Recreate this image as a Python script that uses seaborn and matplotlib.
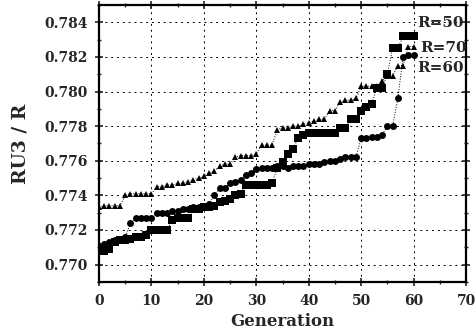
import numpy as np
import pandas as pd
import matplotlib
matplotlib.use("Agg")
import matplotlib.pyplot as plt
from matplotlib.ticker import MultipleLocator, FormatStrFormatter
import seaborn as sns

generation = list(range(61))

# best RU3/R per generation for each population size
r50 = [0.7708, 0.7708, 0.7709, 0.7713, 0.7714, 0.7714, 0.7715, 0.7716, 0.7716, 0.7717,
       0.7720, 0.7720, 0.7720, 0.7720, 0.7726, 0.7727, 0.7727, 0.7727, 0.7732, 0.7732,
       0.7733, 0.7733, 0.7734, 0.7736, 0.7737, 0.7738, 0.7740, 0.7741, 0.7746, 0.7746,
       0.7746, 0.7746, 0.7746, 0.7747, 0.7756, 0.7759, 0.7764, 0.7767, 0.7773, 0.7775,
       0.7776, 0.7776, 0.7776, 0.7776, 0.7776, 0.7776, 0.7779, 0.7779, 0.7784, 0.7784,
       0.7789, 0.7791, 0.7793, 0.7802, 0.7802, 0.7810, 0.7825, 0.7825, 0.7832, 0.7832,
       0.7832]
r70 = [0.7733, 0.7734, 0.7734, 0.7734, 0.7734, 0.7740, 0.7741, 0.7741, 0.7741, 0.7741,
       0.7741, 0.7745, 0.7745, 0.7746, 0.7746, 0.7747, 0.7747, 0.7748, 0.7749, 0.7750,
       0.7751, 0.7753, 0.7754, 0.7757, 0.7758, 0.7758, 0.7762, 0.7763, 0.7763, 0.7763,
       0.7764, 0.7769, 0.7769, 0.7769, 0.7778, 0.7779, 0.7779, 0.7780, 0.7780, 0.7781,
       0.7782, 0.7783, 0.7784, 0.7784, 0.7789, 0.7789, 0.7794, 0.7795, 0.7795, 0.7796,
       0.7803, 0.7803, 0.7803, 0.7803, 0.7806, 0.7809, 0.7809, 0.7815, 0.7815, 0.7826,
       0.7826]
r60 = [0.7711, 0.7712, 0.7713, 0.7714, 0.7715, 0.7716, 0.7724, 0.7727, 0.7727, 0.7727,
       0.7727, 0.7730, 0.7730, 0.7730, 0.7731, 0.7731, 0.7732, 0.7732, 0.7733, 0.7733,
       0.7734, 0.7735, 0.7740, 0.7744, 0.7744, 0.7747, 0.7748, 0.7749, 0.7752, 0.7753,
       0.7755, 0.7756, 0.7756, 0.7756, 0.7757, 0.7757, 0.7756, 0.7757, 0.7757, 0.7757,
       0.7758, 0.7758, 0.7758, 0.7759, 0.7760, 0.7760, 0.7761, 0.7762, 0.7762, 0.7762,
       0.7773, 0.7773, 0.7774, 0.7774, 0.7775, 0.7780, 0.7780, 0.7796, 0.7820, 0.7821,
       0.7821]

series_labels = ["R=50", "R=70", "R=60"]
x_ticks = [0, 10, 20, 30, 40, 50, 60, 70]
y_ticks = [0.770, 0.772, 0.774, 0.776, 0.778, 0.780, 0.782, 0.784]

sns.set_style("ticks")
plt.rcParams["font.family"] = ["DejaVu Serif"]
plt.rcParams["font.weight"] = "bold"

fig = plt.figure(figsize=(4.76, 3.34), dpi=100)
ax = fig.add_axes([0.208, 0.156, 0.771, 0.829])

styles = {
    "R=50": dict(marker="s", markersize=6.0),
    "R=70": dict(marker="^", markersize=4.5),
    "R=60": dict(marker="o", markersize=5.0),
}
for label, values in zip(series_labels, [r50, r70, r60]):
    df = pd.DataFrame({"Generation": generation, "value": values})
    sns.lineplot(data=df, x="Generation", y="value", ax=ax, color="black",
                 linewidth=0.7, linestyle=":", markeredgewidth=0,
                 markerfacecolor="black", **styles[label])

ax.set_xlim(0, 70)
ax.set_ylim(0.769, 0.785)
ax.set_xticks(x_ticks)
ax.set_yticks(y_ticks)
ax.xaxis.set_minor_locator(MultipleLocator(5))
ax.yaxis.set_minor_locator(MultipleLocator(0.001))
ax.yaxis.set_major_formatter(FormatStrFormatter("%.3f"))
ax.tick_params(which="major", direction="inout", length=6, width=1.2,
               top=True, right=True, labelsize=10)
ax.tick_params(axis="y", which="major", pad=5)
ax.tick_params(axis="x", which="major", pad=6)
ax.tick_params(which="minor", direction="inout", length=3, width=1.0,
               top=True, right=True)
for lab in ax.get_xticklabels() + ax.get_yticklabels():
    lab.set_fontweight("bold")

ax.grid(True, which="major", color="black", linestyle=(0, (2, 4)), linewidth=0.7)
for sp in ax.spines.values():
    sp.set_linewidth(1.6)
    sp.set_color("black")

ax.set_xlabel("Generation", fontsize=12, fontweight="bold", labelpad=3)
ax.set_ylabel("RU3 / R", fontsize=13.5, fontweight="bold", labelpad=11)

ax.text(60.7, 0.78397, "R=50", fontsize=11, fontweight="bold", ha="left", va="center")
ax.text(61.3, 0.78253, "R=70", fontsize=11, fontweight="bold", ha="left", va="center")
ax.text(60.7, 0.78134, "R=60", fontsize=11, fontweight="bold", ha="left", va="center")

fig.savefig("out.png", dpi=100)
